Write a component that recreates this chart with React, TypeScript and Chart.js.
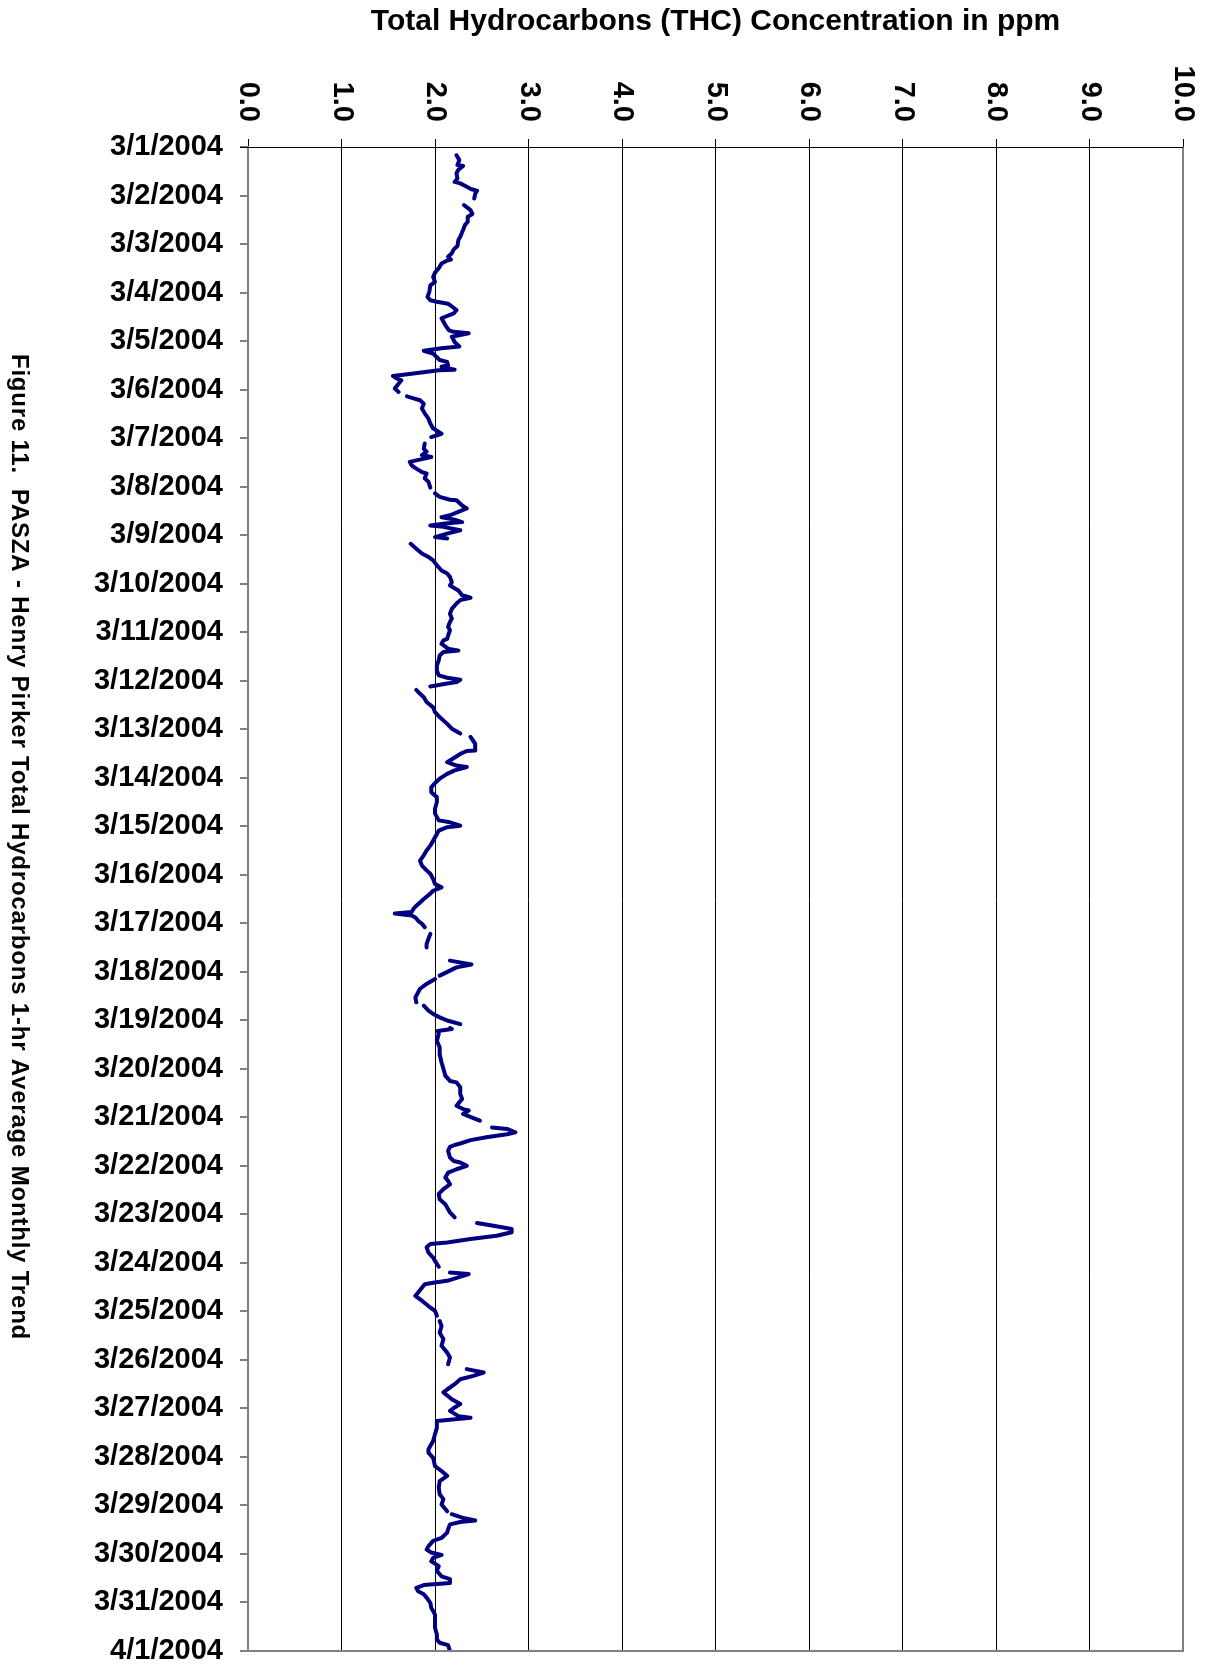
import React, { useEffect, useRef } from 'react';
import { Chart, registerables } from 'chart.js';

Chart.register(...registerables);

const dateLabels: string[] = [
  '3/1/2004', '3/2/2004', '3/3/2004', '3/4/2004', '3/5/2004', '3/6/2004', '3/7/2004', '3/8/2004',
  '3/9/2004', '3/10/2004', '3/11/2004', '3/12/2004', '3/13/2004', '3/14/2004', '3/15/2004', '3/16/2004',
  '3/17/2004', '3/18/2004', '3/19/2004', '3/20/2004', '3/21/2004', '3/22/2004', '3/23/2004', '3/24/2004',
  '3/25/2004', '3/26/2004', '3/27/2004', '3/28/2004', '3/29/2004', '3/30/2004', '3/31/2004', '4/1/2004',
];

const valueTickLabels: string[] = ['0.0', '1.0', '2.0', '3.0', '4.0', '5.0', '6.0', '7.0', '8.0', '9.0', '10.0'];

const axisTitle = 'Total Hydrocarbons (THC) Concentration in ppm';
const figureCaption = 'Figure 11.  PASZA - Henry Pirker Total Hydrocarbons 1-hr Average Monthly Trend';

// [days since 3/1/2004 00:00, THC ppm]; null marks a data gap
const thcReadings: [number, number | null][] = [
  [0.17, 2.23], [0.27, 2.26], [0.37, 2.24], [0.39, 2.30], [0.47, 2.25], [0.54, 2.23], [0.65, 2.24], [0.72, 2.21],
  [0.75, 2.27], [0.82, 2.34], [0.87, 2.39], [0.90, 2.45], [0.96, 2.43], [1.06, 2.42], [1.12, null],
  [1.20, 2.31], [1.27, 2.36], [1.30, 2.38], [1.38, 2.40], [1.44, 2.35], [1.54, 2.35], [1.61, 2.32], [1.71, 2.30],
  [1.85, 2.27], [1.92, 2.25], [2.04, 2.24], [2.11, 2.20], [2.19, 2.18], [2.26, 2.14], [2.32, 2.17], [2.34, 2.13],
  [2.40, 2.07], [2.50, 2.04], [2.59, 2.00], [2.68, 1.98], [2.78, 2.00], [2.85, 1.95], [2.98, 1.94], [3.09, 1.92],
  [3.16, 1.95], [3.19, 2.02], [3.23, 2.14], [3.36, 2.23], [3.43, 2.20], [3.53, 2.07], [3.67, 2.11], [3.78, 2.15],
  [3.81, 2.20], [3.84, 2.36], [3.91, 2.18], [4.02, 2.21], [4.11, 2.26], [4.15, 2.07], [4.20, 1.88], [4.26, 1.98],
  [4.39, 2.05], [4.43, 2.13], [4.50, 2.14], [4.53, 2.07], [4.59, 2.21], [4.60, 2.04], [4.67, 1.77], [4.72, 1.55],
  [4.77, 1.59], [4.81, 1.64], [4.98, 1.57], [5.05, 1.61], [5.09, null],
  [5.14, 1.70], [5.18, 1.77], [5.22, 1.84], [5.29, 1.88], [5.39, 1.86], [5.49, 1.89], [5.60, 1.93], [5.70, 1.95],
  [5.80, 1.98], [5.91, 2.07], [5.98, 1.96], [6.04, null],
  [6.11, 1.89], [6.22, 1.88], [6.28, 1.91], [6.35, 1.86], [6.39, 1.96], [6.46, 1.80], [6.49, 1.73], [6.56, 1.75],
  [6.63, 1.80], [6.70, 1.86], [6.73, 1.91], [6.83, 1.89], [6.90, 1.93], [7.02, 1.95], [7.08, null],
  [7.14, 2.00], [7.21, 2.05], [7.27, 2.16], [7.28, 2.23], [7.39, 2.29], [7.45, 2.34], [7.52, 2.25], [7.59, 2.16],
  [7.63, 2.07], [7.68, 2.21], [7.73, 2.29], [7.76, 2.11], [7.80, 1.95], [7.83, 2.09], [7.90, 2.27], [7.97, 2.13],
  [8.04, 2.00], [8.07, 2.13], [8.12, null],
  [8.18, 1.74], [8.28, 1.80], [8.38, 1.86], [8.45, 1.93], [8.52, 1.98], [8.62, 2.02], [8.73, 2.07], [8.79, 2.13],
  [8.86, 2.16], [8.97, 2.18], [9.04, 2.16], [9.14, 2.25], [9.24, 2.29], [9.29, 2.38], [9.34, 2.27], [9.41, 2.23],
  [9.52, 2.18], [9.62, 2.16], [9.72, 2.18], [9.79, 2.16], [9.89, 2.14], [9.96, 2.16], [10.07, 2.14], [10.14, 2.13],
  [10.17, 2.09], [10.24, 2.07], [10.34, 2.14], [10.38, 2.25], [10.41, 2.09], [10.48, 2.05], [10.58, 2.04], [10.69, 2.02],
  [10.79, 2.02], [10.89, 2.04], [10.94, 2.13], [10.98, 2.27], [11.03, 2.23], [11.06, 2.13], [11.12, 1.95], [11.15, null],
  [11.19, 1.80], [11.27, 1.84], [11.34, 1.88], [11.44, 1.91], [11.55, 1.98], [11.65, 2.00], [11.75, 2.05], [11.89, 2.13],
  [11.99, 2.18], [12.09, 2.27], [12.13, null],
  [12.16, 2.38], [12.30, 2.43], [12.44, 2.43], [12.45, 2.34], [12.51, 2.27], [12.68, 2.13], [12.75, 2.23], [12.78, 2.34],
  [12.85, 2.21], [12.92, 2.13], [13.02, 2.05], [13.11, 2.00], [13.20, 1.96], [13.30, 1.96], [13.40, 2.02], [13.50, 2.02],
  [13.64, 2.00], [13.74, 2.00], [13.88, 2.04], [13.92, 2.16], [13.99, 2.27], [14.02, 2.13], [14.09, 2.04], [14.16, 2.02],
  [14.30, 1.98], [14.40, 1.95], [14.50, 1.91], [14.60, 1.88], [14.71, 1.84], [14.81, 1.86], [14.91, 1.91], [14.98, 1.95],
  [15.09, 1.98], [15.19, 2.00], [15.26, 2.07], [15.33, 1.98], [15.39, 1.95], [15.50, 1.88], [15.57, 1.84], [15.64, 1.80],
  [15.70, 1.77], [15.77, 1.75], [15.80, 1.57], [15.84, 1.75], [15.88, 1.79], [15.95, 1.82], [16.01, 1.86], [16.08, 1.89],
  [16.15, null],
  [16.22, 1.95], [16.32, 1.93], [16.43, 1.91], [16.50, 1.91], [16.55, null],
  [16.77, 2.16], [16.85, 2.39], [16.91, 2.23], [17.08, 2.05], [17.11, null],
  [17.15, 2.00], [17.25, 1.91], [17.35, 1.84], [17.53, 1.79], [17.63, 1.80], [17.66, null],
  [17.70, 1.88], [17.80, 1.93], [17.87, 1.98], [17.94, 2.05], [18.01, 2.14], [18.08, 2.27], [18.11, null],
  [18.16, 2.16], [18.18, 2.18], [18.22, 2.03], [18.28, 2.04],
  [18.42, 2.02], [18.56, 2.05], [18.70, 2.05], [18.87, 2.07], [19.00, 2.09], [19.14, 2.11], [19.25, 2.16], [19.28, 2.23],
  [19.38, 2.27], [19.52, 2.27], [19.62, 2.29], [19.76, 2.23], [19.83, 2.30], [19.86, 2.36], [19.93, 2.30], [20.00, 2.39],
  [20.07, 2.48], [20.14, null],
  [20.21, 2.61], [20.24, 2.77], [20.31, 2.86], [20.35, 2.77], [20.41, 2.55], [20.47, 2.38], [20.54, 2.27], [20.57, 2.21],
  [20.61, 2.16], [20.69, 2.14], [20.83, 2.16], [20.90, 2.20], [20.93, 2.27], [21.00, 2.34], [21.07, 2.23], [21.14, 2.14],
  [21.24, 2.11], [21.31, 2.14], [21.38, 2.16], [21.48, 2.09], [21.58, 2.04], [21.69, 2.05], [21.79, 2.11], [21.96, 2.16],
  [22.06, 2.21], [22.12, null],
  [22.18, 2.45], [22.24, 2.64], [22.30, 2.82], [22.37, 2.82], [22.44, 2.66], [22.51, 2.38], [22.58, 2.13], [22.61, 1.95],
  [22.68, 1.91], [22.79, 1.93], [22.89, 1.98], [22.96, 2.00], [23.08, 2.04], [23.14, null],
  [23.20, 2.16], [23.22, 2.29], [23.23, 2.36], [23.30, 2.25], [23.37, 2.13], [23.41, 1.98], [23.44, 1.89], [23.61, 1.82],
  [23.68, 1.79], [23.78, 1.86], [23.89, 1.93], [23.99, 2.00], [24.09, 2.02], [24.14, null],
  [24.20, 2.05], [24.30, 2.07], [24.44, 2.05], [24.57, 2.09], [24.71, 2.07], [24.85, 2.13], [24.95, 2.16], [25.09, 2.14],
  [25.14, null],
  [25.19, 2.34], [25.26, 2.52], [25.33, 2.41], [25.40, 2.27], [25.50, 2.21], [25.61, 2.13], [25.67, 2.09], [25.81, 2.18],
  [25.91, 2.27], [25.98, 2.21], [26.05, 2.16], [26.16, 2.25], [26.19, 2.38], [26.26, 2.02], [26.40, 2.02], [26.53, 2.00],
  [26.67, 1.98], [26.84, 1.93], [26.91, 1.93], [27.02, 1.98], [27.19, 2.00], [27.29, 2.07], [27.39, 2.13], [27.50, 2.05],
  [27.63, 2.04], [27.77, 2.05], [27.87, 2.09], [27.98, 2.07], [28.12, 2.13], [28.15, null],
  [28.18, 2.18], [28.25, 2.29], [28.31, 2.43], [28.34, 2.27], [28.39, 2.16], [28.49, 2.14], [28.56, 2.13], [28.67, 2.07],
  [28.73, 1.98], [28.84, 1.93], [28.91, 1.91], [28.97, 1.96], [29.02, 2.07], [29.08, 1.98], [29.15, 1.96], [29.25, 2.04],
  [29.35, 2.02], [29.46, 2.07], [29.52, 2.16], [29.60, 2.16], [29.62, 2.02], [29.64, 1.88], [29.70, 1.80], [29.77, 1.82],
  [29.83, 1.88], [29.90, 1.91], [30.01, 1.95], [30.11, 1.96], [30.25, 2.00], [30.38, 2.00], [30.52, 2.00], [30.66, 2.02],
  [30.76, 2.02], [30.83, 2.05], [30.88, 2.14], [31.00, 2.16],
];

const FAMILY = '"Liberation Sans", Arial, Helvetica, sans-serif';

const decorations = {
  id: 'decorations',
  afterDraw(chart: any) {
    const { ctx, chartArea } = chart;
    const xs = chart.scales.x;
    ctx.save();
    // plot frame (left, bottom, right) in gray
    ctx.strokeStyle = '#808080';
    ctx.lineWidth = 2;
    ctx.beginPath();
    ctx.moveTo(chartArea.left, chartArea.top);
    ctx.lineTo(chartArea.left, chartArea.bottom);
    ctx.lineTo(chartArea.right, chartArea.bottom);
    ctx.lineTo(chartArea.right, chartArea.top);
    ctx.stroke();
    // top border in black
    ctx.strokeStyle = '#000';
    ctx.lineWidth = 1;
    ctx.beginPath();
    ctx.moveTo(chartArea.left - 8, chartArea.top + 0.5);
    ctx.lineTo(chartArea.right, chartArea.top + 0.5);
    ctx.stroke();

    // value tick labels, rotated clockwise
    ctx.fillStyle = '#000';
    ctx.font = `bold 29px ${FAMILY}`;
    ctx.textAlign = 'right';
    ctx.textBaseline = 'middle';
    xs.ticks.forEach((t: any, i: number) => {
      const x = xs.getPixelForValue(t.value);
      ctx.save();
      ctx.translate(x, chartArea.top - 25);
      ctx.rotate(Math.PI / 2);
      ctx.fillText(valueTickLabels[i] ?? '', 0, 0);
      ctx.restore();
    });

    // figure caption, rotated clockwise on the left
    ctx.font = `bold 24px ${FAMILY}`;
    try {
      (ctx as any).letterSpacing = '0.8px';
    } catch (e) {
      /* ignore */
    }
    ctx.textAlign = 'center';
    ctx.textBaseline = 'middle';
    ctx.translate(19, 847);
    ctx.rotate(Math.PI / 2);
    ctx.fillText(figureCaption, 0, 0);
    ctx.restore();
  },
};

export default function App() {
  const ref = useRef<HTMLCanvasElement>(null);

  useEffect(() => {
    document.body.style.margin = '0';
    const canvas = ref.current;
    if (!canvas) return;
    const chart = new Chart(canvas, {
      type: 'line',
      data: {
        datasets: [
          {
            data: thcReadings.map(([d, v]) => ({ x: v, y: d })) as any,
            borderColor: '#000080',
            backgroundColor: '#000080',
            borderWidth: 4,
            borderJoinStyle: 'round',
            borderCapStyle: 'round',
            pointRadius: 0,
            tension: 0,
            spanGaps: false,
            fill: false,
          },
        ],
      },
      options: {
        indexAxis: 'y',
        responsive: false,
        animation: false,
        devicePixelRatio: 1,
        layout: { padding: { left: 40, right: 29, top: 0, bottom: 14 } },
        plugins: { legend: { display: false }, tooltip: { enabled: false } },
        scales: {
          x: {
            type: 'linear',
            position: 'top',
            min: 0,
            max: 10,
            ticks: { stepSize: 1, display: false },
            grid: { color: '#000', lineWidth: 1, tickLength: 8 },
            border: { color: '#000', width: 1 },
            title: {
              display: true,
              text: axisTitle,
              color: '#000',
              font: { family: FAMILY, size: 30, weight: 'bold', lineHeight: 1 },
              padding: { top: 7, bottom: 0 },
            },
            afterFit: (s: any) => {
              s.height = 147;
            },
          },
          y: {
            type: 'linear',
            position: 'left',
            min: 0,
            max: 31,
            reverse: true,
            ticks: {
              stepSize: 1,
              autoSkip: false,
              padding: 17,
              color: '#000',
              font: { family: FAMILY, size: 29, weight: 'bold', lineHeight: 1 },
              callback: (v: any) => dateLabels[Number(v)] ?? '',
            },
            grid: { drawOnChartArea: false, color: '#808080', lineWidth: 2, tickLength: 8 },
            border: { color: '#808080', width: 2 },
            afterFit: (s: any) => {
              s.width = 208;
              s.paddingTop = 0;
              s.paddingBottom = 14;
            },
          },
        },
      } as any,
      plugins: [decorations],
    });
    return () => chart.destroy();
  }, []);

  return <canvas ref={ref} width={1212} height={1665} style={{ display: 'block' }} />;
}
